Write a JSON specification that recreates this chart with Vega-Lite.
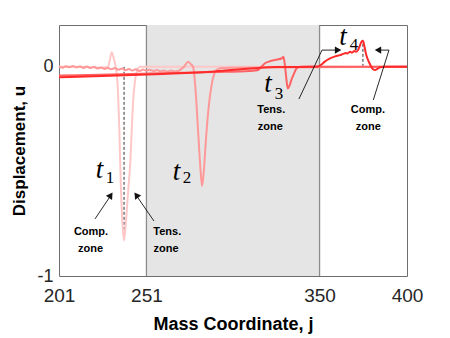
{
  "$schema": "https://vega.github.io/schema/vega-lite/v6.json",
  "width": 348,
  "height": 251,
  "autosize": {"type": "none"},
  "padding": {"left": 59, "top": 25, "right": 43, "bottom": 62},
  "background": "white",
  "config": {"view": {"stroke": "#6e6e6e", "strokeWidth": 1}, "font": "Liberation Sans"},
  "datasets": {
    "curves": [
      {"t": "t1", "j": 201, "u": 0.0}, {"t": "t1", "j": 215, "u": 0.0}, {"t": "t1", "j": 225, "u": -0.003}, {"t": "t1", "j": 229, "u": 0.0},
      {"t": "t1", "j": 230, "u": 0.03}, {"t": "t1", "j": 231.1, "u": 0.07}, {"t": "t1", "j": 232.3, "u": 0.04}, {"t": "t1", "j": 233.4, "u": 0.0},
      {"t": "t1", "j": 234.6, "u": -0.1}, {"t": "t1", "j": 235.5, "u": -0.3}, {"t": "t1", "j": 236.3, "u": -0.55}, {"t": "t1", "j": 237.3, "u": -0.75},
      {"t": "t1", "j": 238.2, "u": -0.83}, {"t": "t1", "j": 239.2, "u": -0.75}, {"t": "t1", "j": 240.5, "u": -0.6}, {"t": "t1", "j": 241.8, "u": -0.45},
      {"t": "t1", "j": 242.6, "u": -0.3}, {"t": "t1", "j": 243.5, "u": -0.15}, {"t": "t1", "j": 244.6, "u": -0.06}, {"t": "t1", "j": 245.6, "u": -0.02},
      {"t": "t1", "j": 247.3, "u": 0.0}, {"t": "t1", "j": 260, "u": 0.0}, {"t": "t1", "j": 400, "u": 0.0},

      {"t": "t2", "j": 201, "u": 0.002}, {"t": "t2", "j": 203, "u": -0.004}, {"t": "t2", "j": 205, "u": 0.003}, {"t": "t2", "j": 207, "u": -0.002},
      {"t": "t2", "j": 209, "u": 0.004}, {"t": "t2", "j": 211, "u": -0.003}, {"t": "t2", "j": 213, "u": 0.002}, {"t": "t2", "j": 215, "u": -0.005},
      {"t": "t2", "j": 217, "u": 0.001}, {"t": "t2", "j": 219, "u": -0.006}, {"t": "t2", "j": 221, "u": 0.0}, {"t": "t2", "j": 223, "u": -0.008},
      {"t": "t2", "j": 225, "u": -0.003}, {"t": "t2", "j": 227, "u": -0.01}, {"t": "t2", "j": 229, "u": -0.005}, {"t": "t2", "j": 231, "u": -0.012},
      {"t": "t2", "j": 233, "u": -0.006}, {"t": "t2", "j": 235, "u": -0.014}, {"t": "t2", "j": 237, "u": -0.008}, {"t": "t2", "j": 239, "u": -0.016},
      {"t": "t2", "j": 241, "u": -0.01}, {"t": "t2", "j": 243, "u": -0.018}, {"t": "t2", "j": 245, "u": -0.012}, {"t": "t2", "j": 247, "u": -0.02},
      {"t": "t2", "j": 249, "u": -0.013}, {"t": "t2", "j": 251, "u": -0.018}, {"t": "t2", "j": 253, "u": -0.014}, {"t": "t2", "j": 255, "u": -0.02},
      {"t": "t2", "j": 257, "u": -0.015}, {"t": "t2", "j": 259, "u": -0.022}, {"t": "t2", "j": 261, "u": -0.017}, {"t": "t2", "j": 263, "u": -0.023},
      {"t": "t2", "j": 265, "u": -0.018}, {"t": "t2", "j": 267, "u": -0.022}, {"t": "t2", "j": 269, "u": -0.02}, {"t": "t2", "j": 271, "u": -0.01},
      {"t": "t2", "j": 272.5, "u": 0.0}, {"t": "t2", "j": 274.8, "u": 0.024}, {"t": "t2", "j": 276.5, "u": 0.012}, {"t": "t2", "j": 277.7, "u": 0.0},
      {"t": "t2", "j": 279, "u": -0.1}, {"t": "t2", "j": 280.5, "u": -0.3}, {"t": "t2", "j": 282, "u": -0.5}, {"t": "t2", "j": 282.8, "u": -0.57},
      {"t": "t2", "j": 283.8, "u": -0.5}, {"t": "t2", "j": 285, "u": -0.35}, {"t": "t2", "j": 286.5, "u": -0.2}, {"t": "t2", "j": 288, "u": -0.1},
      {"t": "t2", "j": 289.5, "u": -0.04}, {"t": "t2", "j": 291, "u": -0.015}, {"t": "t2", "j": 294, "u": -0.006}, {"t": "t2", "j": 300, "u": -0.004},
      {"t": "t2", "j": 350, "u": -0.002}, {"t": "t2", "j": 400, "u": 0.0},

      {"t": "t3", "j": 201, "u": -0.042}, {"t": "t3", "j": 230, "u": -0.037}, {"t": "t3", "j": 260, "u": -0.031}, {"t": "t3", "j": 290, "u": -0.025},
      {"t": "t3", "j": 310, "u": -0.02}, {"t": "t3", "j": 313, "u": -0.018}, {"t": "t3", "j": 314.8, "u": -0.015}, {"t": "t3", "j": 316.5, "u": -0.002},
      {"t": "t3", "j": 318.8, "u": 0.017}, {"t": "t3", "j": 321, "u": 0.025}, {"t": "t3", "j": 324.5, "u": 0.033}, {"t": "t3", "j": 328.5, "u": 0.041},
      {"t": "t3", "j": 329.3, "u": 0.048}, {"t": "t3", "j": 330, "u": 0.02}, {"t": "t3", "j": 330.8, "u": -0.04}, {"t": "t3", "j": 331.8, "u": -0.103},
      {"t": "t3", "j": 332.8, "u": -0.09}, {"t": "t3", "j": 334, "u": -0.06}, {"t": "t3", "j": 335.5, "u": -0.03}, {"t": "t3", "j": 336.9, "u": -0.007},
      {"t": "t3", "j": 339, "u": 0.0}, {"t": "t3", "j": 400, "u": 0.0},

      {"t": "t4", "j": 201, "u": -0.05}, {"t": "t4", "j": 230, "u": -0.043}, {"t": "t4", "j": 260, "u": -0.034}, {"t": "t4", "j": 290, "u": -0.022},
      {"t": "t4", "j": 305, "u": -0.012}, {"t": "t4", "j": 315, "u": -0.005}, {"t": "t4", "j": 325, "u": -0.001}, {"t": "t4", "j": 345, "u": 0.0},
      {"t": "t4", "j": 349, "u": 0.002}, {"t": "t4", "j": 351, "u": 0.01}, {"t": "t4", "j": 353, "u": 0.025}, {"t": "t4", "j": 356, "u": 0.04},
      {"t": "t4", "j": 359, "u": 0.05}, {"t": "t4", "j": 361.7, "u": 0.056}, {"t": "t4", "j": 363.5, "u": 0.062}, {"t": "t4", "j": 365, "u": 0.066},
      {"t": "t4", "j": 366, "u": 0.064}, {"t": "t4", "j": 367.4, "u": 0.072}, {"t": "t4", "j": 368.5, "u": 0.068}, {"t": "t4", "j": 370, "u": 0.076},
      {"t": "t4", "j": 371, "u": 0.072}, {"t": "t4", "j": 372, "u": 0.08}, {"t": "t4", "j": 373, "u": 0.1}, {"t": "t4", "j": 374, "u": 0.12},
      {"t": "t4", "j": 374.8, "u": 0.125}, {"t": "t4", "j": 375.6, "u": 0.1}, {"t": "t4", "j": 376.6, "u": 0.06}, {"t": "t4", "j": 377.7, "u": 0.033},
      {"t": "t4", "j": 379, "u": 0.01}, {"t": "t4", "j": 380, "u": -0.006}, {"t": "t4", "j": 381.7, "u": -0.015}, {"t": "t4", "j": 383, "u": -0.01},
      {"t": "t4", "j": 384.6, "u": -0.002}, {"t": "t4", "j": 387, "u": 0.0}, {"t": "t4", "j": 400, "u": 0.0}
    ],
    "zone": [{"j": 251, "j2": 350}],
    "edges": [{"j": 251}, {"j": 350}],
    "dashed": [{"j": 238.2, "u": 0, "u2": -0.83}, {"j": 374.8, "u": 0, "u2": 0.122}],
    "arrows": [
      {"j": 221.6, "u": -0.727, "j2": 231.0, "u2": -0.61},
      {"j": 255.3, "u": -0.737, "j2": 244.8, "u2": -0.61},
      {"j": 338.2, "u": -0.154, "j2": 351.4, "u2": 0.08},
      {"j": 351.4, "u": 0.08, "j2": 360.0, "u2": 0.08},
      {"j": 380.7, "u": -0.159, "j2": 389.7, "u2": 0.08},
      {"j": 389.7, "u": 0.08, "j2": 384.0, "u2": 0.08}
    ],
    "heads": [
      {"id": "a", "j": 230.6, "u": -0.614},
      {"id": "b", "j": 245.2, "u": -0.613},
      {"id": "c", "j": 360.6, "u": 0.08},
      {"id": "d", "j": 383.4, "u": 0.08}
    ],
    "tlabels": [
      {"j": 224.2, "u": -0.532, "txt": "t"}, {"j": 268.2, "u": -0.541, "txt": "t"},
      {"j": 320.5, "u": -0.12, "txt": "t"}, {"j": 363.4, "u": 0.104, "txt": "t"}
    ],
    "subs": [
      {"j": 230.2, "u": -0.555, "txt": "1"}, {"j": 274.2, "u": -0.555, "txt": "2"},
      {"j": 326.8, "u": -0.154, "txt": "3"}, {"j": 369.7, "u": 0.08, "txt": "4"}
    ],
    "notes": [
      {"j": 219.3, "u": -0.804, "txt": "Comp."}, {"j": 219.1, "u": -0.885, "txt": "zone"},
      {"j": 262.9, "u": -0.804, "txt": "Tens."}, {"j": 262.2, "u": -0.885, "txt": "zone"},
      {"j": 322.4, "u": -0.222, "txt": "Tens."}, {"j": 321.8, "u": -0.302, "txt": "zone"},
      {"j": 377.6, "u": -0.222, "txt": "Comp."}, {"j": 377.9, "u": -0.302, "txt": "zone"}
    ]
  },
  "layer": [
    {
      "data": {"name": "zone"},
      "mark": {"type": "rect", "fill": "#e5e5e5"},
      "encoding": {
        "x": {"field": "j", "type": "quantitative", "title": "Mass Coordinate, j", "scale": {"domain": [201, 400], "nice": false, "zero": false},
              "axis": {"title": "Mass Coordinate, j", "values": [201, 251, 350, 400], "grid": false, "domain": false, "ticks": false,
                       "labelFontSize": 19, "labelColor": "#262626", "labelPadding": 10, "labelFont": "Liberation Sans",
                       "titleFontSize": 18, "titleFontWeight": "bold", "titleColor": "#000000", "titlePadding": 10, "titleFont": "Liberation Sans",
                       "labelFlush": false}},
        "x2": {"field": "j2"},
        "y": {"datum": -1, "type": "quantitative", "title": "Displacement, u", "scale": {"domain": [-1, 0.2], "nice": false, "zero": false},
              "axis": {"title": "Displacement, u", "values": [0, -1], "grid": false, "domain": false, "ticks": false,
                       "labelExpr": "'' + datum.value", "labelFontSize": 18, "labelColor": "#262626", "labelPadding": 6, "labelFont": "Liberation Sans",
                       "titleFontSize": 17, "titleFontWeight": "bold", "titleColor": "#000000", "titlePadding": 8, "titleFont": "Liberation Sans"}},
        "y2": {"datum": 0.2}
      }
    },
    {
      "data": {"name": "edges"},
      "mark": {"type": "rule", "color": "#8c8c8c", "strokeWidth": 1.3},
      "encoding": {
        "x": {"field": "j", "type": "quantitative", "title": "Mass Coordinate, j"},
        "y": {"datum": -1, "type": "quantitative", "title": "Displacement, u"},
        "y2": {"datum": 0.2}
      }
    },
    {
      "data": {"name": "dashed"},
      "mark": {"type": "rule", "color": "#333333", "strokeWidth": 1, "strokeDash": [3, 2]},
      "encoding": {
        "x": {"field": "j", "type": "quantitative", "title": "Mass Coordinate, j"},
        "y": {"field": "u", "type": "quantitative", "title": "Displacement, u"},
        "y2": {"field": "u2"}
      }
    },
    {
      "data": {"name": "curves"},
      "mark": {"type": "line", "strokeWidth": 2, "interpolate": "monotone"},
      "encoding": {
        "x": {"field": "j", "type": "quantitative", "title": "Mass Coordinate, j"},
        "y": {"field": "u", "type": "quantitative", "title": "Displacement, u"},
        "color": {"field": "t", "type": "nominal", "legend": null,
                  "scale": {"domain": ["t1", "t2", "t3", "t4"], "range": ["#ffc8c8", "#ff9898", "#ff6262", "#ff2a2a"]}},
        "order": {"field": "j", "type": "quantitative"}
      }
    },
    {
      "data": {"name": "arrows"},
      "mark": {"type": "rule", "color": "#111111", "strokeWidth": 0.9},
      "encoding": {
        "x": {"field": "j", "type": "quantitative", "title": "Mass Coordinate, j"},
        "y": {"field": "u", "type": "quantitative", "title": "Displacement, u"},
        "x2": {"field": "j2"},
        "y2": {"field": "u2"}
      }
    },
    {
      "data": {"name": "heads"},
      "transform": [{"filter": "datum.id == 'a'"}],
      "mark": {"type": "point", "shape": "triangle-up", "filled": true, "color": "#111111", "size": 55, "angle": 34, "opacity": 1},
      "encoding": {"x": {"field": "j", "type": "quantitative", "title": "Mass Coordinate, j"}, "y": {"field": "u", "type": "quantitative", "title": "Displacement, u"}}
    },
    {
      "data": {"name": "heads"},
      "transform": [{"filter": "datum.id == 'b'"}],
      "mark": {"type": "point", "shape": "triangle-up", "filled": true, "color": "#111111", "size": 55, "angle": 325, "opacity": 1},
      "encoding": {"x": {"field": "j", "type": "quantitative", "title": "Mass Coordinate, j"}, "y": {"field": "u", "type": "quantitative", "title": "Displacement, u"}}
    },
    {
      "data": {"name": "heads"},
      "transform": [{"filter": "datum.id == 'c'"}],
      "mark": {"type": "point", "shape": "triangle-right", "filled": true, "color": "#111111", "size": 55, "opacity": 1},
      "encoding": {"x": {"field": "j", "type": "quantitative", "title": "Mass Coordinate, j"}, "y": {"field": "u", "type": "quantitative", "title": "Displacement, u"}}
    },
    {
      "data": {"name": "heads"},
      "transform": [{"filter": "datum.id == 'd'"}],
      "mark": {"type": "point", "shape": "triangle-left", "filled": true, "color": "#111111", "size": 55, "opacity": 1},
      "encoding": {"x": {"field": "j", "type": "quantitative", "title": "Mass Coordinate, j"}, "y": {"field": "u", "type": "quantitative", "title": "Displacement, u"}}
    },
    {
      "data": {"name": "tlabels"},
      "mark": {"type": "text", "font": "Liberation Serif", "fontStyle": "italic", "fontSize": 27, "align": "center", "baseline": "alphabetic", "color": "#000000"},
      "encoding": {"x": {"field": "j", "type": "quantitative", "title": "Mass Coordinate, j"}, "y": {"field": "u", "type": "quantitative", "title": "Displacement, u"}, "text": {"field": "txt"}}
    },
    {
      "data": {"name": "subs"},
      "mark": {"type": "text", "font": "Liberation Serif", "fontSize": 17, "align": "center", "baseline": "alphabetic", "color": "#000000"},
      "encoding": {"x": {"field": "j", "type": "quantitative", "title": "Mass Coordinate, j"}, "y": {"field": "u", "type": "quantitative", "title": "Displacement, u"}, "text": {"field": "txt"}}
    },
    {
      "data": {"name": "notes"},
      "mark": {"type": "text", "font": "Liberation Sans", "fontWeight": "bold", "fontSize": 11, "align": "center", "baseline": "alphabetic", "color": "#000000"},
      "encoding": {"x": {"field": "j", "type": "quantitative", "title": "Mass Coordinate, j"}, "y": {"field": "u", "type": "quantitative", "title": "Displacement, u"}, "text": {"field": "txt"}}
    }
  ]
}
